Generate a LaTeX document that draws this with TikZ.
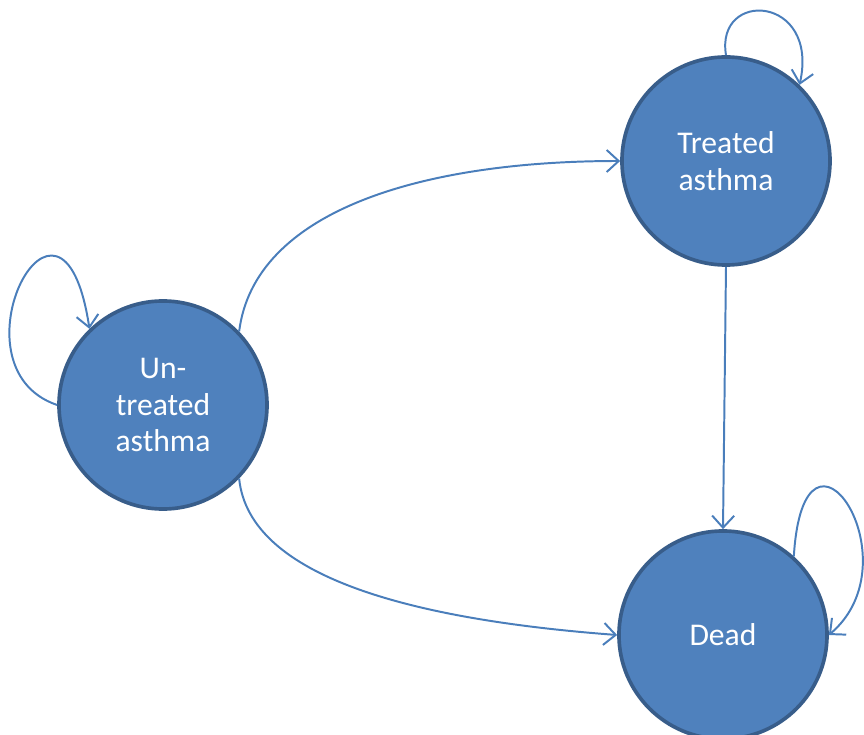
\documentclass[tikz,border=0pt]{standalone}
\usepackage{fontspec}
\setmainfont{Carlito}
\usepackage{tikz}
\usetikzlibrary{arrows.meta,positioning}
\definecolor{statefill}{HTML}{4F81BD}
\definecolor{stateline}{HTML}{385D8A}
\definecolor{edgeline}{HTML}{4A7EBB}

\begin{document}
\begin{tikzpicture}[
    x=0.025cm, y=-0.025cm,
    font=\fontsize{22.5}{26}\selectfont,
    state/.style={circle, draw=stateline, fill=statefill, line width=2.6pt, minimum size=5.2cm, text=white, align=center, inner sep=0pt},
    trans/.style={draw=edgeline, line width=1.4pt, -{Straight Barb[length=3mm, width=5.5mm]}}
]
\useasboundingbox (0,0) rectangle (864,735);

\node[state] (untreated) at (163,405) {Un-\\treated\\asthma};
\node[state] (treated) at (726,161) {Treated\\asthma};
\node[state] (dead) at (723,635) {Dead};

% transitions between states
\draw[trans] (untreated.44) .. controls +(15,-120) and +(-200,0) .. (treated.180);
\draw[trans] (untreated.-44) .. controls +(10,100) and +(-200,-15) .. (dead.180);
\draw[trans] (treated.south) -- (dead.north);

% staying in the same state
\draw[trans] (untreated.180) .. controls +(-112,-38) and +(-28,-185) .. (untreated.134);
\draw[trans] (treated.90) .. controls +(-11,-66) and +(20,-90) .. (treated.46);
\draw[trans] (dead.48) .. controls +(10,-165) and +(88,-75) .. (dead.0);
\end{tikzpicture}
\end{document}
